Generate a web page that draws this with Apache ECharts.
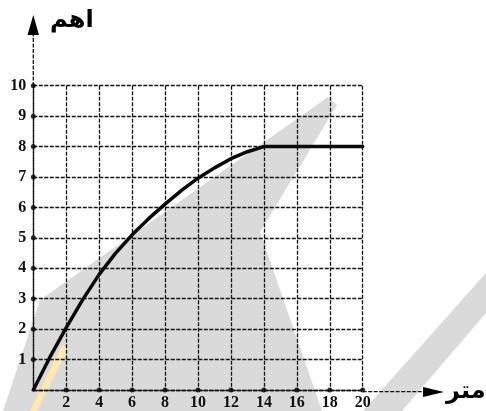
<!DOCTYPE html>
<html>
<head>
<meta charset="utf-8">
<script src="https://cdn.jsdelivr.net/npm/echarts@6/dist/echarts.min.js"></script>
<style>
html,body{margin:0;padding:0;background:#fff;}
#chart{width:486px;height:411px;}
</style>
</head>
<body>
<div id="chart"></div>
<script>
// Data
var xValues = [0,1,2,3,4,5,6,7,8,9,10,11,12,13,14,15,16,17,18,19,20];
var yValues = [0,1.07,2.05,2.97,3.8,4.5,5.1,5.63,6.11,6.56,6.96,7.3,7.6,7.83,8,8,8,8,8,8,8];
var xTicks = [2,4,6,8,10,12,14,16,18,20];
var yTicks = [1,2,3,4,5,6,7,8,9,10];
var xAxisName = 'متر';
var yAxisName = 'اهم';

var chart = echarts.init(document.getElementById('chart'), null, {renderer:'canvas'});

var lineData = xValues.map(function(x,i){return [x, yValues[i]];});
var dotData = xTicks.map(function(x){return [x,0];}).concat(yTicks.map(function(y){return [0,y];}));

var gridLine = {color:'#141414', width:1.3, type:[4,1.5]};
var labelFont = {fontFamily:'Liberation Serif', fontSize:16, fontWeight:'bold', color:'#111'};

var option = {
  backgroundColor:'#ffffff',
  animation:false,
  grid:{left:33.3, right:123.3, top:85.7, bottom:19.3, containLabel:false},
  xAxis:{
    type:'value', min:0, max:20, interval:2,
    axisLine:{show:true, onZero:false, lineStyle:gridLine},
    axisTick:{show:false},
    axisLabel:Object.assign({margin:5, formatter:function(v){return v===0?'':v;}}, labelFont),
    splitLine:{show:true, lineStyle:gridLine}
  },
  yAxis:{
    type:'value', min:0, max:10, interval:1,
    axisLine:{show:true, onZero:false, lineStyle:gridLine},
    axisTick:{show:false},
    axisLabel:Object.assign({margin:7, formatter:function(v){return v===0?'':v;}}, labelFont),
    splitLine:{show:true, lineStyle:gridLine}
  },
  graphic:[
    {type:'polygon', silent:true, z:-100, shape:{points:[[3,411],[40,300],[328,97],[337,105],[260,232],[322,411]]}, style:{fill:'#dadada'}},
    {type:'polygon', silent:true, z:-100, shape:{points:[[363,411],[402,411],[486,313],[486,273]]}, style:{fill:'#dadada'}},
    {type:'polygon', silent:true, z:-99, shape:{points:[[30,411],[37,411],[68,349],[62,345]]}, style:{fill:'#fde9b0'}},
    {type:'line', silent:true, shape:{x1:33.3,y1:86,x2:33.3,y2:34}, style:{stroke:'#141414', lineWidth:1.3, lineDash:[4,1.5]}},
    {type:'polygon', silent:true, shape:{points:[[33.3,15],[27.5,35],[39,35]]}, style:{fill:'#000'}},
    {type:'line', silent:true, shape:{x1:362.7,y1:391.7,x2:424,y2:391.7}, style:{stroke:'#141414', lineWidth:1.3, lineDash:[4,1.5]}},
    {type:'polygon', silent:true, shape:{points:[[423,387],[423,397],[444,392]]}, style:{fill:'#000'}},
    {type:'text', silent:true, left:446, top:380, style:{text:xAxisName, font:'bold 24px "DejaVu Sans"', fill:'#000'}},
    {type:'text', silent:true, left:50, top:9, style:{text:yAxisName, font:'bold 24px "DejaVu Sans"', fill:'#000'}}
  ],
  series:[
    {type:'line', data:lineData, smooth:false, showSymbol:false, lineStyle:{color:'#0a0a0a', width:3.5, join:'round', cap:'round'}, z:5},
    {type:'scatter', data:dotData, symbolSize:5, itemStyle:{color:'#000'}, clip:false, z:6, silent:true}
  ]
};
chart.setOption(option);
</script>
</body>
</html>
